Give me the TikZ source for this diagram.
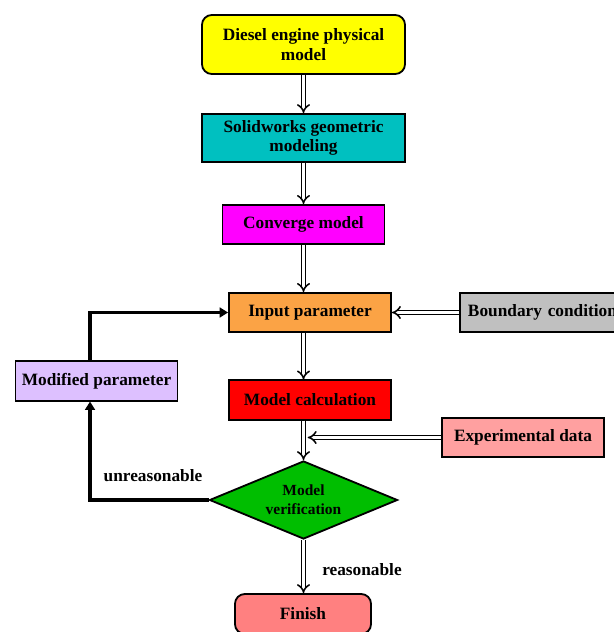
\documentclass[tikz,border=0pt]{standalone}
\usepackage{fontspec}
\setmainfont{Liberation Serif}
\usetikzlibrary{shapes.geometric,arrows.meta}

\definecolor{modelyellow}{RGB}{255,255,0}
\definecolor{solidcyan}{RGB}{0,192,192}
\definecolor{convmagenta}{RGB}{255,0,255}
\definecolor{inputorange}{RGB}{251,163,69}
\definecolor{boundgray}{RGB}{192,192,192}
\definecolor{modlavender}{RGB}{221,192,255}
\definecolor{calcred}{RGB}{255,0,0}
\definecolor{exppink}{RGB}{255,160,160}
\definecolor{verifygreen}{RGB}{0,190,0}
\definecolor{finishred}{RGB}{255,128,128}

\begin{document}
\begin{tikzpicture}[x=0.025cm, y=-0.025cm,
  box/.style = {draw, line width=1.3pt, align=center, inner sep=0pt,
                font=\bfseries\fontsize{12.3}{14}\selectfont,
                minimum width=4.05cm, minimum height=0.98cm},
  roundbox/.style = {box, rounded corners=7pt},
  dbl/.style = {double=white, double distance=2pt, line width=1.1pt, -{Implies}},
  loopline/.style = {line width=2.4pt, -{Triangle[length=6pt,width=7pt]}},
  lbl/.style = {font=\bfseries\fontsize{12.3}{14}\selectfont}
]
\useasboundingbox (0,0) rectangle (613,632);

% main column
\node[roundbox, fill=modelyellow, minimum width=5.075cm, minimum height=1.475cm] (engine) at (303.5,44.5) {Diesel engine physical\\model};
\node[box, fill=solidcyan, minimum width=5.075cm, minimum height=1.2cm] (solid) at (303.5,138) {Solidworks geometric\\modeling};
\node[box, fill=convmagenta] (converge) at (303.5,224.5) {Converge model};
\node[box, fill=inputorange] (input) at (310,312.5) {Input parameter};
\node[box, fill=calcred] (calc) at (310,400) {Model calculation};
\node[diamond, aspect=2.3, draw, line width=1.3pt, fill=verifygreen, inner sep=0pt, align=center,
      minimum width=4.7cm, minimum height=1.95cm,
      font=\bfseries\fontsize{11}{13.5}\selectfont] (verify) at (303.5,500) {Model\\verification};
\node[roundbox, fill=finishred, minimum width=3.4cm, minimum height=1.0cm] (finish) at (303,614) {Finish};

% side boxes
\node[box, fill=boundgray, minimum width=4.1cm, text width=3.7cm, align=left] (boundary) at (542,312.5) {\mbox{Boundary condition}};
\node[box, fill=modlavender] (modified) at (96.5,381) {Modified parameter};
\node[box, fill=exppink] (exp) at (523,437.5) {Experimental data};

% arrows
\draw[dbl] (engine) -- (solid);
\draw[dbl] (solid) -- (converge);
\draw[dbl] (converge.south) -- (converge.south |- input.north);
\draw[dbl] (input.south -| verify.north) -- (calc.north -| verify.north);
\draw[dbl] (calc.south -| verify.north) -- (verify.north);
\draw[dbl] (boundary.west) -- (input.east);
\draw[dbl] (exp.west) -- ([xshift=3pt]verify.north |- exp.west);
\draw[dbl] (verify.south) -- (finish.north -| verify.south);

% feedback loop
\draw[loopline] (verify.west) -| ([xshift=-4.6pt]modified.south);
\draw[loopline] ([xshift=-4.6pt]modified.north) |- (input.west);

\node[lbl] (unreas) at (153,476) {unreasonable};
\node[lbl] (reas) at (362,570) {reasonable};
\end{tikzpicture}
\end{document}
